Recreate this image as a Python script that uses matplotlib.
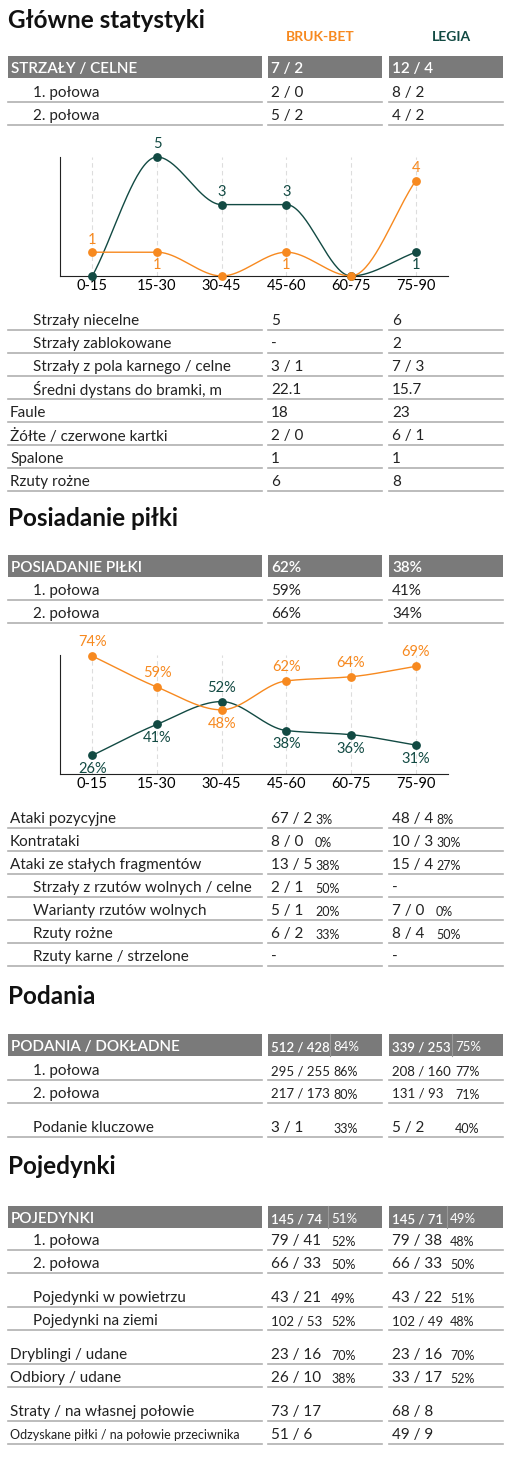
import numpy as np
import matplotlib
matplotlib.use("Agg")
import matplotlib.pyplot as plt

plt.rcParams['font.family'] = ['Lato', 'DejaVu Sans']

ORANGE = "#f7891f"
TEAL = "#124a43"
GRAY = "#7a7a7a"
LINE = "#b0b0b0"

W, H = 522, 1457
TEAMS = ["BRUK-BET", "LEGIA"]
BINS = ["0-15", "15-30", "30-45", "45-60", "60-75", "75-90"]

# shots per 15 min
shots_bb = [1, 1, 0, 1, 0, 4]
shots_lg = [0, 5, 3, 3, 0, 1]
# possession per 15 min
poss_bb = [74, 59, 48, 62, 64, 69]
poss_lg = [26, 41, 52, 38, 36, 31]

# (label, bruk, legia, indent, bruk_pct, legia_pct)
shots_head = ("STRZAŁY / CELNE", "7 / 2", "12 / 4")
shots_rows = [("1. połowa", "2 / 0", "8 / 2", 1), ("2. połowa", "5 / 2", "4 / 2", 1)]
shots_rows2 = [
    ("Strzały niecelne", "5", "6", 1),
    ("Strzały zablokowane", "-", "2", 1),
    ("Strzały z pola karnego / celne", "3 / 1", "7 / 3", 1),
    ("Średni dystans do bramki, m", "22.1", "15.7", 1),
    ("Faule", "18", "23", 0),
    ("Żółte / czerwone kartki", "2 / 0", "6 / 1", 0),
    ("Spalone", "1", "1", 0),
    ("Rzuty rożne", "6", "8", 0),
]
poss_head = ("POSIADANIE PIŁKI", "62%", "38%")
poss_rows = [("1. połowa", "59%", "41%", 1), ("2. połowa", "66%", "34%", 1)]
attack_rows = [
    ("Ataki pozycyjne", "67 / 2", "48 / 4", 0, "3%", "8%"),
    ("Kontrataki", "8 / 0", "10 / 3", 0, "0%", "30%"),
    ("Ataki ze stałych fragmentów", "13 / 5", "15 / 4", 0, "38%", "27%"),
    ("Strzały z rzutów wolnych / celne", "2 / 1", "-", 1, "50%", ""),
    ("Warianty rzutów wolnych", "5 / 1", "7 / 0", 1, "20%", "0%"),
    ("Rzuty rożne", "6 / 2", "8 / 4", 1, "33%", "50%"),
    ("Rzuty karne / strzelone", "-", "-", 1, "", ""),
]
pass_head = ("PODANIA / DOKŁADNE", "512 / 428", "339 / 253", "84%", "75%")
pass_rows = [
    ("1. połowa", "295 / 255", "208 / 160", 1, "86%", "77%"),
    ("2. połowa", "217 / 173", "131 / 93", 1, "80%", "71%"),
    None,
    ("Podanie kluczowe", "3 / 1", "5 / 2", 1, "33%", "40%"),
]
duel_head = ("POJEDYNKI", "145 / 74", "145 / 71", "51%", "49%")
duel_rows = [
    ("1. połowa", "79 / 41", "79 / 38", 1, "52%", "48%"),
    ("2. połowa", "66 / 33", "66 / 33", 1, "50%", "50%"),
    None,
    ("Pojedynki w powietrzu", "43 / 21", "43 / 22", 1, "49%", "51%"),
    ("Pojedynki na ziemi", "102 / 53", "102 / 49", 1, "52%", "48%"),
    None,
    ("Dryblingi / udane", "23 / 16", "23 / 16", 0, "70%", "70%"),
    ("Odbiory / udane", "26 / 10", "33 / 17", 0, "38%", "52%"),
    None,
    ("Straty / na własnej połowie", "73 / 17", "68 / 8", 0, "", ""),
    ("Odzyskane piłki / na połowie przeciwnika", "51 / 6", "49 / 9", 0, "", ""),
]

COLS = [(8, 262), (268, 382), (389, 503)]
ROWH = 23

fig = plt.figure(figsize=(W / 100, H / 100), dpi=100)
bg = fig.add_axes([0, 0, 1, 1])
bg.set_xlim(0, W); bg.set_ylim(H, 0); bg.axis("off")


def title(y, s):
    bg.text(8, y, s, fontsize=17.5, fontweight="bold", va="center", color="#111")


def header(y, lab, v1, v2, p1="", p2="", px=(333, 455)):
    for x0, x1 in COLS:
        bg.add_patch(plt.Rectangle((x0, y - 11), x1 - x0, 22, color=GRAY, lw=0))
    bg.text(11, y + 2, lab, color="white", fontsize=11, va="center", fontweight="semibold")
    fs = 9.5 if p1 else 11
    bg.text(271, y + 2, v1, color="white", fontsize=fs, va="center", fontweight="semibold")
    bg.text(392, y + 2, v2, color="white", fontsize=fs, va="center", fontweight="semibold")
    if p1:
        for x, p in zip(px, (p1, p2)):
            bg.plot([x - 3, x - 3], [y - 11, y + 11], color="#999", lw=0.8)
            bg.text(x, y + 2, p, color="white", fontsize=9.5, va="center")


def row(y, lab, v1, v2, ind, p1="", p2="", px=(333, 455), fs=11, pfs=9):
    bg.text(33 if ind else 10, y + 2, lab, fontsize=fs, va="center", color="#222")
    vfs = 9.5 if len(v1) > 7 else 11
    bg.text(271, y + 2, v1, fontsize=vfs, va="center", color="#222")
    bg.text(392, y + 2, v2, fontsize=vfs, va="center", color="#222")
    for x, p in zip(px, (p1, p2)):
        if p:
            bg.text(x, y + 3, p, fontsize=pfs, va="center", color="#222")
    for x0, x1 in COLS:
        bg.plot([x0, x1], [y + 11, y + 11], color=LINE, lw=1.2)


def monotone(xs, ys, n=40):
    xs = np.asarray(xs, float); ys = np.asarray(ys, float)
    h = np.diff(xs); d = np.diff(ys) / h
    m = np.zeros_like(ys)
    m[0], m[-1] = d[0], d[-1]
    for i in range(1, len(ys) - 1):
        if d[i - 1] * d[i] <= 0:
            m[i] = 0
        else:
            m[i] = 2 / (1 / d[i - 1] + 1 / d[i])
    px, py = [], []
    for i in range(len(h)):
        t = np.linspace(0, 1, n)
        h00 = 2*t**3 - 3*t**2 + 1; h10 = t**3 - 2*t**2 + t
        h01 = -2*t**3 + 3*t**2; h11 = t**3 - t**2
        px.append(xs[i] + t * h[i])
        py.append(h00*ys[i] + h10*h[i]*m[i] + h01*ys[i+1] + h11*h[i]*m[i+1])
    return np.concatenate(px), np.concatenate(py)


def chart(top, bottom, a, b, ylim, fmt, off):
    ax = fig.add_axes([60 / W, 1 - bottom / H, 388 / W, (bottom - top) / H])
    x = np.arange(len(BINS))
    ax.set_xlim(-0.5, 5.5); ax.set_ylim(*ylim)
    for s in ("top", "right"):
        ax.spines[s].set_visible(False)
    ax.spines["left"].set_color("#222"); ax.spines["bottom"].set_color("#222")
    ax.set_yticks([])
    ax.set_xticks(x); ax.set_xticklabels(BINS, fontsize=10.5)
    ax.tick_params(axis="x", length=0, pad=2)
    for xi in x:
        ax.axvline(xi, color="#ddd", lw=0.8, ls=(0, (4, 3)), zorder=0)
    for vals, other, col in ((b, a, TEAL), (a, b, ORANGE)):
        sx, sy = monotone(x, vals)
        ax.plot(sx, sy, color=col, lw=1.0, clip_on=False)
        ax.scatter(x, vals, s=28, color=col, zorder=3, clip_on=False)
        for xi, v, o in zip(x, vals, other):
            if v == 0:
                continue
            above = v >= o
            ax.annotate(fmt(v), (xi, v), xytext=(0, off if above else -off), textcoords="offset points",
                        ha="center", va="center", color=col, fontsize=10.5)


# --- section 1
title(20, "Główne statystyki")
bg.text(320, 37, TEAMS[0], color=ORANGE, fontsize=10, fontweight="bold", ha="center", va="center")
bg.text(451, 37, TEAMS[1], color=TEAL, fontsize=10, fontweight="bold", ha="center", va="center")
header(67, *shots_head)
y = 91
for r in shots_rows:
    row(y, *r); y += ROWH
chart(157, 276, shots_bb, shots_lg, (0, 5), lambda v: f"{v}", 9)
y = 319
for r in shots_rows2:
    row(y, *r); y += ROWH

# --- section 2
title(518, "Posiadanie piłki")
header(566, *poss_head)
y = 589
for r in poss_rows:
    row(y, *r); y += ROWH
chart(655, 774, poss_bb, poss_lg, (17, 74.5), lambda v: f"{v}%", 10)
y = 817
for r in attack_rows:
    row(y, *r, px=(315, 436)); y += ROWH

# --- section 3
title(997, "Podania")
header(1045, *pass_head, px=(333, 455))
y = 1069
for r in pass_rows:
    if r is None:
        y += 11; continue
    row(y, *r, px=(333, 455)); y += ROWH

# --- section 4
title(1167, "Pojedynki")
header(1217, *duel_head, px=(331, 450))
y = 1239
for r in duel_rows:
    if r is None:
        y += 11; continue
    fs = 9 if len(r[0]) > 35 else 11
    row(y, *r, px=(331, 450), fs=fs); y += ROWH

fig.savefig("out.png", dpi=100)
